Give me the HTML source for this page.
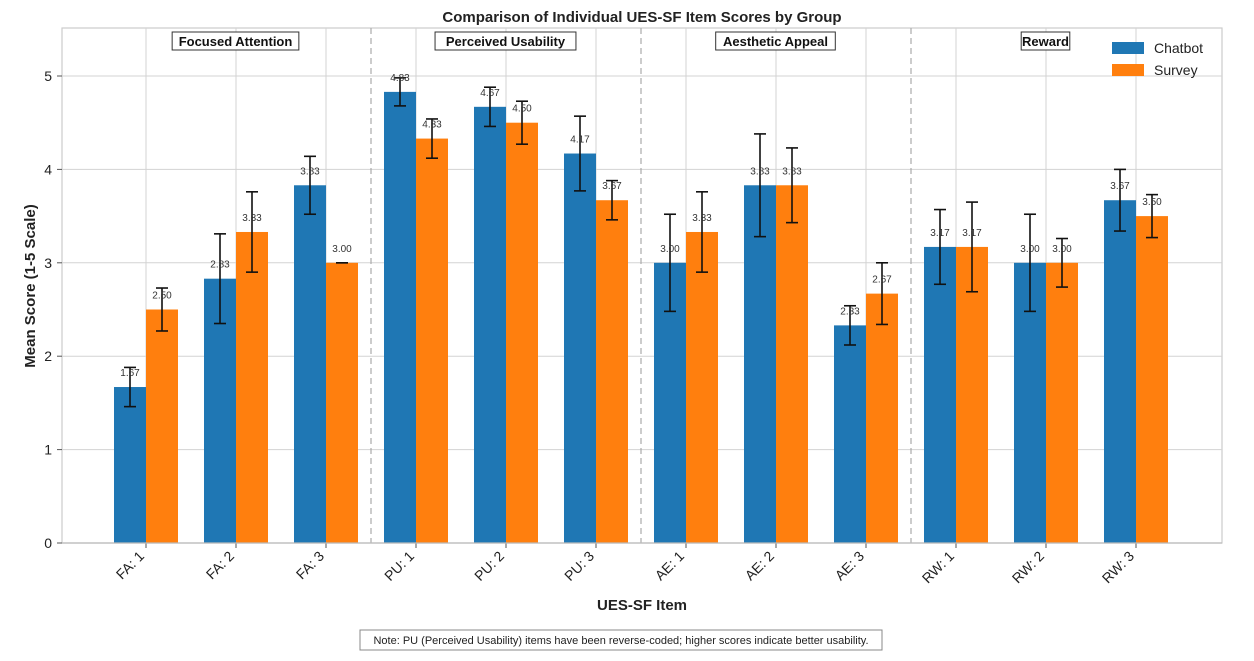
<!DOCTYPE html>
<html><head><meta charset="utf-8"><style>
body{margin:0;background:#fff;}
svg text{font-family:"Liberation Sans",sans-serif;}
</style></head><body>
<svg width="1254" height="656" xmlns="http://www.w3.org/2000/svg" id="chart">
<g id="grid"></g>
<g id="bars"></g>
<g id="axes"></g>
</svg>
<script>
const categories=["FA: 1","FA: 2","FA: 3","PU: 1","PU: 2","PU: 3","AE: 1","AE: 2","AE: 3","RW: 1","RW: 2","RW: 3"];
const chatbot=[1.67,2.83,3.83,4.83,4.67,4.17,3.00,3.83,2.33,3.17,3.00,3.67];
const chatbotErr=[0.21,0.48,0.31,0.15,0.21,0.40,0.52,0.55,0.21,0.40,0.52,0.33];
const survey=[2.50,3.33,3.00,4.33,4.50,3.67,3.33,3.83,2.67,3.17,3.00,3.50];
const surveyErr=[0.23,0.43,0.00,0.21,0.23,0.21,0.43,0.40,0.33,0.48,0.26,0.23];
const groups=["Focused Attention","Perceived Usability","Aesthetic Appeal","Reward"];
const yTicks=[0,1,2,3,4,5];
const NS="http://www.w3.org/2000/svg";
const L=62,R=1222,T=28,B=543;
const x=i=>146+i*90;
const y=v=>B-v*93.4;
function mk(tag,attrs,parent,txt){const e=document.createElementNS(NS,tag);for(const k in attrs)e.setAttribute(k,attrs[k]);if(txt!==undefined)e.textContent=txt;parent.appendChild(e);return e;}
const svg=document.getElementById('chart'),grid=document.getElementById('grid'),bars=document.getElementById('bars'),axes=document.getElementById('axes');
mk('rect',{x:L,y:T,width:R-L,height:B-T,fill:'#fff',stroke:'#ccc','stroke-width':1.2},grid);
yTicks.forEach(t=>{
 const l=mk('line',{x1:L,x2:R,y1:y(t),y2:y(t),stroke:'#d3d3d3','stroke-width':1},grid);
 
 
 const tx=mk('text',{x:L-10,y:y(t)+5,'text-anchor':'end','font-size':14,fill:'#222'},axes,t);
 
 
 mk('line',{x1:L-5,x2:L,y1:y(t),y2:y(t),stroke:'#555'},axes);
});
categories.forEach((c,i)=>{
 const l=mk('line',{x1:x(i),x2:x(i),y1:T,y2:B,stroke:'#d3d3d3','stroke-width':1},grid);
 
 
 mk('line',{x1:x(i),x2:x(i),y1:B,y2:B+5,stroke:'#555'},axes);
 const tx=mk('text',{x:x(i)-1,y:B+14,'text-anchor':'end','font-size':14,fill:'#222',transform:`rotate(-45 ${x(i)-1} ${B+14})`},axes,c);
 
 
});
[3,6,9].forEach(k=>{
 const l=mk('line',{x1:x(k)-45,x2:x(k)-45,y1:T,y2:B,stroke:'#aaa','stroke-dasharray':'6,4','stroke-width':1.2},grid);
 
 
});
groups.forEach((g,j)=>{
 const cx=x(j*3+1)-0.5;
 const w=g.length*7.1+6;
 const r=mk('rect',{x:cx-w/2,y:32,width:w,height:18,fill:'#fff',stroke:'#333','stroke-width':1},axes);
 
 
 const t=mk('text',{x:cx,y:46,'text-anchor':'middle','font-size':13,'font-weight':'bold',fill:'#111'},axes,g);
 
 
});
function series(vals,errs,color,off,name){
 vals.forEach((v,i)=>{
  const bx=x(i)+off;
  const r=mk('rect',{x:bx-16,y:y(v),width:32,height:B-y(v),fill:color},bars);
  
  
  const e=errs[i];
  mk('line',{x1:bx,x2:bx,y1:y(v+e),y2:y(v-e),stroke:'#111','stroke-width':1.6},bars);
  mk('line',{x1:bx-6,x2:bx+6,y1:y(v+e),y2:y(v+e),stroke:'#111','stroke-width':1.6},bars);
  mk('line',{x1:bx-6,x2:bx+6,y1:y(v-e),y2:y(v-e),stroke:'#111','stroke-width':1.6},bars);
  const t=mk('text',{x:bx,y:y(v)-11,'text-anchor':'middle','font-size':10,fill:'#333'},bars,v.toFixed(2));
  
  
 });
}
series(chatbot,chatbotErr,'#1f77b4',-16,'chatbot');
series(survey,surveyErr,'#ff7f0e',16,'survey');
mk('line',{x1:L,x2:R,y1:B,y2:B,stroke:'#bbb','stroke-width':1.2},axes);
let t;
t=mk('text',{x:642,y:22,'text-anchor':'middle','font-size':15,'font-weight':'bold',fill:'#222'},svg,'Comparison of Individual UES-SF Item Scores by Group');

t=mk('text',{x:0,y:0,'text-anchor':'middle','font-size':15,'font-weight':'bold',fill:'#222',transform:'translate(35 286) rotate(-90)'},svg,'Mean Score (1-5 Scale)');

t=mk('text',{x:642,y:610,'text-anchor':'middle','font-size':15,'font-weight':'bold',fill:'#222'},svg,'UES-SF Item');

const lg=mk('g',{},svg);

[['Chatbot','#1f77b4',48],['Survey','#ff7f0e',70]].forEach(([n,c,yy])=>{
 const r=mk('rect',{x:1112,y:yy-6,width:32,height:12,fill:c},lg);
 
 const tt=mk('text',{x:1154,y:yy+5,'font-size':14,fill:'#222'},lg,n);
 
});
const nb=mk('rect',{x:360,y:630,width:522,height:20,fill:'#fff',stroke:'#888'},svg);

t=mk('text',{x:621,y:644,'text-anchor':'middle','font-size':11,fill:'#222'},svg,'Note: PU (Perceived Usability) items have been reverse-coded; higher scores indicate better usability.');

</script>
</body></html>
